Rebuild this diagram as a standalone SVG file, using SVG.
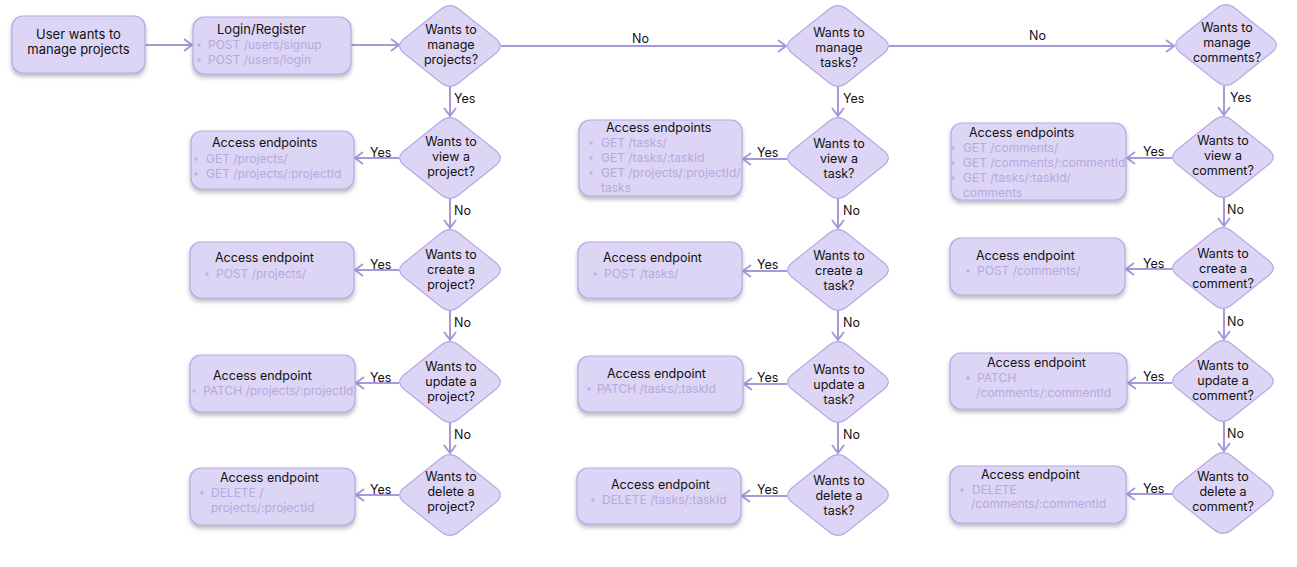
<svg xmlns="http://www.w3.org/2000/svg" xmlns:xlink="http://www.w3.org/1999/xlink" width="1297" height="567" viewBox="0 0 1297 567">
  <style>
    text { font-family: Inter, "Liberation Sans", sans-serif; }
    .box { fill: #ddd5f5; stroke: #b7a9e5; stroke-width: 1.2; filter: url(#shadow); }
    .dia { fill: #ddd5f5; stroke: #b7a9e5; stroke-width: 1.2; }
    .lbl { font-size: 13px; fill: #111; }
    .ttl { font-size: 12.5px; fill: #111; }
    .q { font-size: 12.5px; fill: #111; text-anchor: middle; }
    .ep { font-size: 12px; fill: #b4aadf; }
    .dot { fill: #bbb2e0; }
    .edge { fill: none; stroke: #a898d8; stroke-width: 2; marker-end: url(#chev); }
    .el { font-size: 12.5px; fill: #111; }
  </style>
  <defs>
    <filter id="shadow" x="-10%" y="-20%" width="120%" height="160%">
      <feDropShadow dx="0" dy="3" stdDeviation="2" flood-color="#4a4560" flood-opacity="0.38"/>
    </filter>
    <marker id="chev" markerUnits="userSpaceOnUse" viewBox="0 0 10 14" refX="9" refY="7" markerWidth="10" markerHeight="14" orient="auto">
      <path d="M1,1 L9,7 L1,13" fill="none" stroke="#a898d8" stroke-width="2"/>
    </marker>
    <!-- rounded decision diamond, centred on the origin -->
    <path id="dia" class="dia" d="M9.35,-36.52 L45.65,-7.48 Q55,0 45.65,7.48 L9.35,36.52 Q0,44 -9.35,36.52 L-45.65,7.48 Q-55,0 -45.65,-7.48 L-9.35,-36.52 Q0,-44 9.35,-36.52 Z"/>
  </defs>

  <!-- connectors -->
  <g id="connectors">
    <path class="edge" d="M145,45 H192"/>
    <path class="edge" d="M351,45 H399"/>
    <path class="edge" d="M501,46 H786"/>
    <path class="edge" d="M889,46 H1174"/>
    <text class="el" x="632" y="43">No</text>
    <text class="el" x="1029" y="40">No</text>

    <!-- projects column -->
    <path class="edge" d="M450,87 V116"/>
    <path class="edge" d="M450,199 V228"/>
    <path class="edge" d="M450,311 V340"/>
    <path class="edge" d="M450,423 V453"/>
    <text class="el" x="454" y="103">Yes</text>
    <text class="el" x="454" y="215">No</text>
    <text class="el" x="454" y="327">No</text>
    <text class="el" x="454" y="439">No</text>
    <path class="edge" d="M399,158 H355"/>
    <path class="edge" d="M399,270 H355"/>
    <path class="edge" d="M399,383 H356"/>
    <path class="edge" d="M399,495 H356"/>
    <text class="el" x="370" y="157">Yes</text>
    <text class="el" x="370" y="269">Yes</text>
    <text class="el" x="370" y="382">Yes</text>
    <text class="el" x="370" y="494">Yes</text>

    <!-- tasks column -->
    <path class="edge" d="M838,87 V116"/>
    <path class="edge" d="M838,199 V228"/>
    <path class="edge" d="M838,311 V340"/>
    <path class="edge" d="M838,423 V453"/>
    <text class="el" x="843" y="103">Yes</text>
    <text class="el" x="843" y="215">No</text>
    <text class="el" x="843" y="327">No</text>
    <text class="el" x="843" y="439">No</text>
    <path class="edge" d="M787,159 H743"/>
    <path class="edge" d="M787,271 H743"/>
    <path class="edge" d="M787,384 H744"/>
    <path class="edge" d="M787,496 H742"/>
    <text class="el" x="757" y="157">Yes</text>
    <text class="el" x="757" y="269">Yes</text>
    <text class="el" x="757" y="382">Yes</text>
    <text class="el" x="757" y="494">Yes</text>

    <!-- comments column -->
    <path class="edge" d="M1224,86 V115"/>
    <path class="edge" d="M1224,198 V226"/>
    <path class="edge" d="M1224,309 V339"/>
    <path class="edge" d="M1224,422 V451"/>
    <text class="el" x="1230" y="102">Yes</text>
    <text class="el" x="1227" y="214">No</text>
    <text class="el" x="1227" y="326">No</text>
    <text class="el" x="1227" y="438">No</text>
    <path class="edge" d="M1172,158 H1127"/>
    <path class="edge" d="M1172,269 H1126"/>
    <path class="edge" d="M1172,383 H1128"/>
    <path class="edge" d="M1172,494 H1127"/>
    <text class="el" x="1143" y="156">Yes</text>
    <text class="el" x="1143" y="268">Yes</text>
    <text class="el" x="1143" y="381">Yes</text>
    <text class="el" x="1143" y="493">Yes</text>
  </g>

  <!-- entry -->
  <g id="start">
    <rect class="box" x="12" y="16" width="133" height="57" rx="11"/>
    <text class="lbl" x="78.5" y="39" text-anchor="middle">User wants to</text>
    <text class="lbl" x="78.5" y="54" text-anchor="middle">manage projects</text>
  </g>
  <g id="login">
    <rect class="box" x="193" y="17" width="158" height="57" rx="11"/>
    <text class="lbl" x="217" y="34">Login/Register</text>
    <circle class="dot" cx="199" cy="45" r="1.7"/>
    <text class="ep" x="208" y="49">POST /users/signup</text>
    <circle class="dot" cx="199" cy="60" r="1.7"/>
    <text class="ep" x="208" y="64">POST /users/login</text>
  </g>

  <!-- projects decisions -->
  <g id="q-manage-projects">
    <use xlink:href="#dia" x="450" y="46"/>
    <text class="q" x="451" y="34">Wants to</text>
    <text class="q" x="451" y="49">manage</text>
    <text class="q" x="451" y="64">projects?</text>
  </g>
  <g id="q-view-project">
    <use xlink:href="#dia" x="450" y="158"/>
    <text class="q" x="451" y="146">Wants to</text>
    <text class="q" x="451" y="161">view a</text>
    <text class="q" x="451" y="176">project?</text>
  </g>
  <g id="q-create-project">
    <use xlink:href="#dia" x="450" y="270"/>
    <text class="q" x="451" y="259">Wants to</text>
    <text class="q" x="451" y="274">create a</text>
    <text class="q" x="451" y="289">project?</text>
  </g>
  <g id="q-update-project">
    <use xlink:href="#dia" x="450" y="382"/>
    <text class="q" x="451" y="371">Wants to</text>
    <text class="q" x="451" y="386">update a</text>
    <text class="q" x="451" y="401">project?</text>
  </g>
  <g id="q-delete-project">
    <use xlink:href="#dia" x="450" y="495"/>
    <text class="q" x="451" y="481">Wants to</text>
    <text class="q" x="451" y="496">delete a</text>
    <text class="q" x="451" y="511">project?</text>
  </g>

  <!-- projects endpoints -->
  <g id="ep-view-project">
    <rect class="box" x="191" y="131" width="163" height="58" rx="11"/>
    <text class="ttl" x="212" y="147">Access endpoints</text>
    <circle class="dot" cx="196" cy="159" r="1.7"/>
    <text class="ep" x="206" y="163">GET /projects/</text>
    <circle class="dot" cx="196" cy="174" r="1.7"/>
    <text class="ep" x="206" y="178">GET /projects/:projectId</text>
  </g>
  <g id="ep-create-project">
    <rect class="box" x="190" y="242" width="164" height="56" rx="11"/>
    <text class="ttl" x="215" y="262">Access endpoint</text>
    <circle class="dot" cx="207" cy="274" r="1.7"/>
    <text class="ep" x="216" y="278">POST /projects/</text>
  </g>
  <g id="ep-update-project">
    <rect class="box" x="190" y="355" width="165" height="57" rx="11"/>
    <text class="ttl" x="213" y="380">Access endpoint</text>
    <circle class="dot" cx="194" cy="391" r="1.7"/>
    <text class="ep" x="203" y="395">PATCH /projects/:projectId</text>
  </g>
  <g id="ep-delete-project">
    <rect class="box" x="190" y="468" width="165" height="57" rx="11"/>
    <text class="ttl" x="220" y="482">Access endpoint</text>
    <circle class="dot" cx="202" cy="493" r="1.7"/>
    <text class="ep" x="211" y="497">DELETE /</text>
    <text class="ep" x="211" y="512">projects/:projectId</text>
  </g>

  <!-- tasks decisions -->
  <g id="q-manage-tasks">
    <use xlink:href="#dia" x="838" y="46"/>
    <text class="q" x="839" y="37">Wants to</text>
    <text class="q" x="839" y="52">manage</text>
    <text class="q" x="839" y="67">tasks?</text>
  </g>
  <g id="q-view-task">
    <use xlink:href="#dia" x="838" y="158"/>
    <text class="q" x="839" y="148">Wants to</text>
    <text class="q" x="839" y="163">view a</text>
    <text class="q" x="839" y="178">task?</text>
  </g>
  <g id="q-create-task">
    <use xlink:href="#dia" x="838" y="270"/>
    <text class="q" x="839" y="260">Wants to</text>
    <text class="q" x="839" y="275">create a</text>
    <text class="q" x="839" y="290">task?</text>
  </g>
  <g id="q-update-task">
    <use xlink:href="#dia" x="838" y="382"/>
    <text class="q" x="839" y="374">Wants to</text>
    <text class="q" x="839" y="389">update a</text>
    <text class="q" x="839" y="404">task?</text>
  </g>
  <g id="q-delete-task">
    <use xlink:href="#dia" x="838" y="495"/>
    <text class="q" x="839" y="485">Wants to</text>
    <text class="q" x="839" y="500">delete a</text>
    <text class="q" x="839" y="515">task?</text>
  </g>

  <!-- tasks endpoints -->
  <g id="ep-view-task">
    <rect class="box" x="579" y="120" width="163" height="76" rx="11"/>
    <text class="ttl" x="606" y="132">Access endpoints</text>
    <circle class="dot" cx="591" cy="143" r="1.7"/>
    <text class="ep" x="601" y="147">GET /tasks/</text>
    <circle class="dot" cx="591" cy="158" r="1.7"/>
    <text class="ep" x="601" y="162">GET /tasks/:taskId</text>
    <circle class="dot" cx="591" cy="173" r="1.7"/>
    <text class="ep" x="601" y="177">GET /projects/:projectId/</text>
    <text class="ep" x="601" y="192">tasks</text>
  </g>
  <g id="ep-create-task">
    <rect class="box" x="578" y="242" width="164" height="56" rx="11"/>
    <text class="ttl" x="603" y="262">Access endpoint</text>
    <circle class="dot" cx="595" cy="274" r="1.7"/>
    <text class="ep" x="604" y="278">POST /tasks/</text>
  </g>
  <g id="ep-update-task">
    <rect class="box" x="578" y="356" width="165" height="56" rx="11"/>
    <text class="ttl" x="607" y="378">Access endpoint</text>
    <circle class="dot" cx="589" cy="389" r="1.7"/>
    <text class="ep" x="597" y="393">PATCH /tasks/:taskId</text>
  </g>
  <g id="ep-delete-task">
    <rect class="box" x="577" y="468" width="164" height="56" rx="11"/>
    <text class="ttl" x="611" y="489">Access endpoint</text>
    <circle class="dot" cx="593" cy="500" r="1.7"/>
    <text class="ep" x="602" y="504">DELETE /tasks/:taskId</text>
  </g>

  <!-- comments decisions -->
  <g id="q-manage-comments">
    <use xlink:href="#dia" x="1226" y="45"/>
    <text class="q" x="1227" y="32">Wants to</text>
    <text class="q" x="1227" y="47">manage</text>
    <text class="q" x="1227" y="62">comments?</text>
  </g>
  <g id="q-view-comment">
    <use xlink:href="#dia" x="1223" y="157"/>
    <text class="q" x="1223" y="145">Wants to</text>
    <text class="q" x="1223" y="160">view a</text>
    <text class="q" x="1223" y="175">comment?</text>
  </g>
  <g id="q-create-comment">
    <use xlink:href="#dia" x="1223" y="268"/>
    <text class="q" x="1223" y="258">Wants to</text>
    <text class="q" x="1223" y="273">create a</text>
    <text class="q" x="1223" y="288">comment?</text>
  </g>
  <g id="q-update-comment">
    <use xlink:href="#dia" x="1223" y="381"/>
    <text class="q" x="1223" y="370">Wants to</text>
    <text class="q" x="1223" y="385">update a</text>
    <text class="q" x="1223" y="400">comment?</text>
  </g>
  <g id="q-delete-comment">
    <use xlink:href="#dia" x="1223" y="493"/>
    <text class="q" x="1223" y="481">Wants to</text>
    <text class="q" x="1223" y="496">delete a</text>
    <text class="q" x="1223" y="511">comment?</text>
  </g>

  <!-- comments endpoints -->
  <g id="ep-view-comment">
    <rect class="box" x="951" y="123" width="175" height="77" rx="11"/>
    <text class="ttl" x="969" y="137">Access endpoints</text>
    <circle class="dot" cx="953" cy="148" r="1.7"/>
    <text class="ep" x="963" y="152">GET /comments/</text>
    <circle class="dot" cx="953" cy="163" r="1.7"/>
    <text class="ep" x="963" y="167">GET /comments/:commentId</text>
    <circle class="dot" cx="953" cy="178" r="1.7"/>
    <text class="ep" x="963" y="182">GET /tasks/:taskId/</text>
    <text class="ep" x="963" y="197">comments</text>
  </g>
  <g id="ep-create-comment">
    <rect class="box" x="950" y="238" width="175" height="57" rx="11"/>
    <text class="ttl" x="976" y="260">Access endpoint</text>
    <circle class="dot" cx="968" cy="271" r="1.7"/>
    <text class="ep" x="977" y="275">POST /comments/</text>
  </g>
  <g id="ep-update-comment">
    <rect class="box" x="950" y="353" width="177" height="56" rx="11"/>
    <text class="ttl" x="987" y="367">Access endpoint</text>
    <circle class="dot" cx="968" cy="378" r="1.7"/>
    <text class="ep" x="977" y="382">PATCH</text>
    <text class="ep" x="976" y="397">/comments/:commentId</text>
  </g>
  <g id="ep-delete-comment">
    <rect class="box" x="950" y="466" width="176" height="57" rx="11"/>
    <text class="ttl" x="981" y="479">Access endpoint</text>
    <circle class="dot" cx="962" cy="490" r="1.7"/>
    <text class="ep" x="972" y="494">DELETE</text>
    <text class="ep" x="971" y="508">/comments/:commentId</text>
  </g>
</svg>
